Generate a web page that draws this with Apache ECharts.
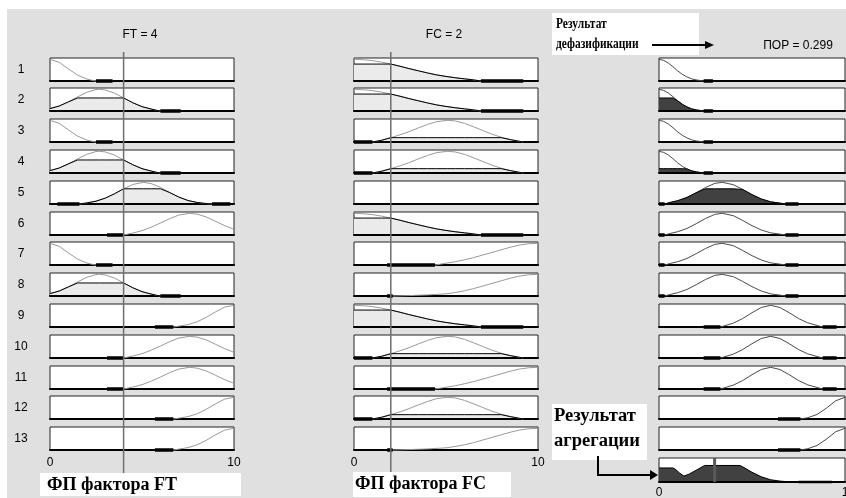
<!DOCTYPE html>
<html><head><meta charset="utf-8">
<script src="https://cdn.jsdelivr.net/npm/echarts@6/dist/echarts.min.js"></script>
<style>html,body{margin:0;padding:0;background:#fff}#c{width:846px;height:498px}</style>
</head><body><div id="c"></div>
<script>
// ---------- data ----------
const rowLabels = ['1','2','3','4','5','6','7','8','9','10','11','12','13'];
const inputRange = [0, 10];
const outputRange = [0, 1];
const ftValue = 4, fcValue = 2, porValue = 0.299;
const ftTitle = 'FT = 4', fcTitle = 'FC = 2', porTitle = 'ПОР = 0.299';

// FT membership functions
const ftLow      = [[0,1],[0.5,0.86],[1,0.56],[1.5,0.27],[2,0.09],[2.3,0.03],[2.5,0],[3.4,0]];
const ftLowMid   = [[0,0.11],[0.5,0.23],[1,0.42],[1.5,0.65],[2,0.86],[2.5,0.99],[2.7,1],[3,0.97],[3.5,0.83],[4,0.6],[4.5,0.38],[5,0.2],[5.5,0.09],[5.8,0.03],[6,0],[7.1,0]];
const ftMid      = [[0.4,0],[1.6,0],[2,0.05],[2.5,0.13],[3,0.27],[3.5,0.47],[4,0.7],[4.5,0.9],[5.07,1],[5.5,0.94],[6,0.77],[6.5,0.53],[7,0.32],[7.5,0.16],[8,0.07],[8.5,0.02],[8.8,0],[9.8,0]];
const ftHigh     = [[3.1,0],[4,0],[4.5,0.09],[5,0.2],[5.5,0.36],[6,0.55],[6.5,0.75],[7,0.92],[7.6,1],[8,0.96],[8.5,0.83],[9,0.63],[9.5,0.43],[10,0.26]];
const ftVeryHigh = [[5.7,0],[6.7,0],[7,0.04],[7.5,0.11],[8,0.24],[8.5,0.45],[9,0.7],[9.5,0.92],[10,1]];

// FC membership functions
const fcLow   = [[0,1],[0.5,0.98],[1,0.94],[1.5,0.87],[2,0.78],[2.5,0.68],[3,0.57],[3.5,0.47],[4,0.37],[4.5,0.28],[5,0.21],[5.5,0.15],[6,0.1],[6.5,0.05],[6.9,0],[9.2,0]];
const fcMid   = [[0,0],[1,0],[1.5,0.08],[2,0.2],[2.5,0.33],[3,0.48],[3.5,0.65],[4,0.81],[4.5,0.94],[5.1,1],[5.5,0.97],[6,0.86],[6.5,0.7],[7,0.53],[7.5,0.36],[8,0.22],[8.5,0.11],[9,0.03],[9.2,0]];
const fcHighA = [[1.8,0],[4.4,0],[5,0.08],[5.5,0.15],[6,0.24],[6.5,0.34],[7,0.46],[7.5,0.58],[8,0.7],[8.5,0.82],[9,0.92],[9.5,0.98],[10,1]];
const fcHighB = [[1.8,0],[2.1,0],[3,0.02],[4,0.05],[5,0.1],[5.5,0.16],[6,0.24],[6.5,0.34],[7,0.46],[7.5,0.58],[8,0.7],[8.5,0.82],[9,0.92],[9.5,0.98],[10,1]];

// ПОР membership functions
const porLow      = [[0,1],[0.025,0.95],[0.05,0.83],[0.075,0.66],[0.1,0.47],[0.125,0.31],[0.15,0.19],[0.175,0.1],[0.2,0.05],[0.225,0.02],[0.24,0],[0.29,0]];
const porMid      = [[0,0],[0.03,0],[0.06,0.07],[0.1,0.15],[0.15,0.3],[0.2,0.52],[0.25,0.76],[0.3,0.95],[0.34,1],[0.4,0.89],[0.45,0.67],[0.5,0.43],[0.55,0.23],[0.6,0.1],[0.65,0.04],[0.68,0],[0.75,0]];
const porHigh     = [[0.24,0],[0.33,0],[0.35,0.05],[0.4,0.18],[0.45,0.39],[0.5,0.66],[0.55,0.9],[0.6,1],[0.65,0.9],[0.7,0.66],[0.75,0.39],[0.8,0.19],[0.85,0.07],[0.88,0],[0.955,0]];
const porVeryHigh = [[0.64,0],[0.76,0],[0.8,0.06],[0.85,0.21],[0.9,0.5],[0.95,0.84],[1,1]];

// aggregated output
const aggregated = [[0,0.62],[0.075,0.62],[0.09,0.55],[0.11,0.4],[0.134,0.26],[0.16,0.34],[0.2,0.52],[0.245,0.73],[0.435,0.73],[0.45,0.67],[0.5,0.43],[0.55,0.23],[0.6,0.1],[0.65,0.04],[0.7,0.01],[0.75,0],[0.93,0]];

// rules
const ftRuleMF  = ['low','lowMid','low','lowMid','mid','high','low','lowMid','veryHigh','high','high','veryHigh','veryHigh'];
const fcRuleMF  = ['low','low','mid','mid',null,'low','highA','highB','low','mid','highA','mid','highB'];
const porRuleMF = ['low','low','low','low','mid','mid','mid','mid','high','high','high','veryHigh','veryHigh'];
const ftDegree     = [0,0.6,0,0.6,0.7,0,0,0.6,0,0,0,0,0];
const fcDegree     = [0.78,0.78,0.2,0.2,0,0.78,0,0,0.78,0.2,0,0.2,0];
const ruleStrength = [0,0.6,0,0.2,0.7,0,0,0,0,0,0,0,0];

// ---------- build ----------
const columns = [
  {mfs:{low:ftLow,lowMid:ftLowMid,mid:ftMid,high:ftHigh,veryHigh:ftVeryHigh}, names:ftRuleMF, levels:ftDegree, range:inputRange, left:50, width:184, curve:'#9a9a9a', fill:'#ebebeb'},
  {mfs:{low:fcLow,mid:fcMid,highA:fcHighA,highB:fcHighB}, names:fcRuleMF, levels:fcDegree, range:inputRange, left:354, width:184, curve:'#9a9a9a', fill:'#ebebeb'},
  {mfs:{low:porLow,mid:porMid,high:porHigh,veryHigh:porVeryHigh}, names:porRuleMF, levels:ruleStrength, range:outputRange, left:659, width:186, curve:'#4a4a4a', fill:'#414141'}
];
const FONT = '"Liberation Sans", Arial, sans-serif';
const SERIF = '"Liberation Serif", "Times New Roman", serif';
const grids = [], xAxes = [], yAxes = [], series = [];
const YMAX = 1.06;

function addPanel(left, top, width, height, range, showLabels, labelMargin, rowName){
  const g = grids.length;
  grids.push({left, top, width, height, show:true, backgroundColor:'#fff', borderColor:'#222', borderWidth:1, outerBoundsMode:'none', containLabel:false});
  xAxes.push({gridIndex:g, type:'value', min:range[0], max:range[1], interval:range[1]-range[0],
    axisLine:{show:true, onZero:true, lineStyle:{color:'#000', width:2}}, axisTick:{show:false}, splitLine:{show:false},
    axisLabel:{show:showLabels, margin:labelMargin, fontSize:12, fontFamily:FONT, color:'#000'}});
  yAxes.push({gridIndex:g, type:'value', min:0, max:YMAX, show: rowName != null,
    axisLine:{show:false}, axisTick:{show:false}, axisLabel:{show:false}, splitLine:{show:false},
    name: rowName || '', nameLocation:'middle', nameGap:29, nameRotate:0,
    nameTextStyle:{fontSize:12, fontFamily:FONT, color:'#000', align:'center', verticalAlign:'middle'}});
  series.push({type:'line', xAxisIndex:g, yAxisIndex:g, data:[[range[0],0],[range[1],0]], symbol:'none', silent:true,
    clip:false, lineStyle:{color:'#000', width:2}});
  return g;
}
function tail(mf){ return mf.map(p => p[1] === 0 ? [p[0], 0] : [p[0], null]); }

const ROW_TOP = 57.5, ROW_STEP = 30.8, ROW_H = 23;
columns.forEach((col, c) => {
  rowLabels.forEach((lab, r) => {
    const top = Math.round(ROW_TOP + r*ROW_STEP);
    const last = r === rowLabels.length-1;
    const g = addPanel(col.left, top, col.width, ROW_H, col.range, last && c < 2, 7, c === 0 ? lab : null);
    const name = col.names[r];
    if (!name) return;
    const mf = col.mfs[name];
    const level = col.levels[r];
    series.push({type:'line', xAxisIndex:g, yAxisIndex:g, data:mf, symbol:'none', silent:true, clip:false,
      lineStyle:{color:col.curve, width:1}});
    if (level > 0) {
      series.push({type:'line', xAxisIndex:g, yAxisIndex:g, data:mf.map(p => [p[0], Math.min(p[1], level)]),
        symbol:'none', silent:true, clip:false, lineStyle:{color:'#000', width:1}, areaStyle:{color:col.fill, opacity:1}});
    }
    series.push({type:'line', xAxisIndex:g, yAxisIndex:g, data:tail(mf), symbol:'none', silent:true, clip:false,
      connectNulls:false, lineStyle:{color:'#000', width:3.5}});
  });
});

// aggregation panel
const ga = addPanel(659, 458, 186, 24, outputRange, true, 5, null);
series.push({type:'line', xAxisIndex:ga, yAxisIndex:ga, data:aggregated, symbol:'none', silent:true, clip:false,
  lineStyle:{color:'#000', width:1}, areaStyle:{color:'#414141', opacity:1}});
series.push({type:'line', xAxisIndex:ga, yAxisIndex:ga, data:tail(aggregated), symbol:'none', silent:true, clip:false,
  lineStyle:{color:'#000', width:2.5}});
series.push({type:'line', xAxisIndex:ga, yAxisIndex:ga, data:[[porValue,0],[porValue,YMAX]], symbol:'none', silent:true,
  lineStyle:{color:'#5a5a5a', width:3}});

// input value lines (overlay grids)
[[50, ftValue], [354, fcValue]].forEach(([left, v]) => {
  const g = grids.length;
  grids.push({left, top:52, width:184, height:426, show:false, outerBoundsMode:'none', containLabel:false});
  xAxes.push({gridIndex:g, type:'value', min:inputRange[0], max:inputRange[1], show:false});
  yAxes.push({gridIndex:g, type:'value', min:0, max:1, show:false});
  series.push({type:'line', xAxisIndex:g, yAxisIndex:g, data:[[v,0],[v,1]], symbol:'none', silent:true,
    lineStyle:{color:'#6e6e6e', width:1.5}, z:5});
});

function txt(x, y, text, font, align, sx){
  return {type:'text', x, y, z:60, silent:true, scaleX: sx || 1, style:{text, font, fill:'#000', align:align||'left', verticalAlign:'middle'}};
}
const graphic = [
  {type:'rect', shape:{x:7, y:9, width:839, height:489}, style:{fill:'#e0e0e0'}, z:-100, silent:true},
  txt(140, 35, ftTitle, '12px ' + FONT, 'center'),
  txt(444, 35, fcTitle, '12px ' + FONT, 'center'),
  txt(798, 46, porTitle, '12px ' + FONT, 'center'),
  {type:'rect', shape:{x:40, y:473, width:201, height:23}, style:{fill:'#fff'}, z:50, silent:true},
  txt(47, 485, 'ФП фактора FT', 'bold 18px ' + SERIF),
  {type:'rect', shape:{x:353, y:472, width:158, height:25}, style:{fill:'#fff'}, z:50, silent:true},
  txt(355, 484, 'ФП фактора FC', 'bold 18px ' + SERIF),
  {type:'rect', shape:{x:552, y:13, width:147, height:42}, style:{fill:'#fff'}, z:50, silent:true},
  txt(556, 24, 'Результат', 'bold 14px ' + SERIF, 'left', 0.82),
  txt(556, 44, 'дефазификации', 'bold 14px ' + SERIF, 'left', 0.82),
  {type:'line', shape:{x1:652, y1:45, x2:708, y2:45}, style:{stroke:'#000', lineWidth:2}, z:60, silent:true},
  {type:'polygon', shape:{points:[[705,41],[714,45],[705,49]]}, style:{fill:'#000'}, z:60, silent:true},
  {type:'rect', shape:{x:552, y:404, width:95, height:56}, style:{fill:'#fff'}, z:50, silent:true},
  txt(554, 416, 'Результат', 'bold 18px ' + SERIF, 'left', 1.03),
  txt(554, 441, 'агрегации', 'bold 18px ' + SERIF, 'left', 1.03),
  {type:'polyline', shape:{points:[[598,456],[598,475],[652,475]]}, style:{stroke:'#000', lineWidth:2, fill:null}, z:60, silent:true},
  {type:'polygon', shape:{points:[[650,470],[658,475],[650,480]]}, style:{fill:'#000'}, z:60, silent:true}
];

const chart = echarts.init(document.getElementById('c'), null, {renderer:'canvas'});
chart.setOption({
  animation:false,
  backgroundColor:'#fff',
  grid:grids, xAxis:xAxes, yAxis:yAxes, series, graphic
});
</script></body></html>
